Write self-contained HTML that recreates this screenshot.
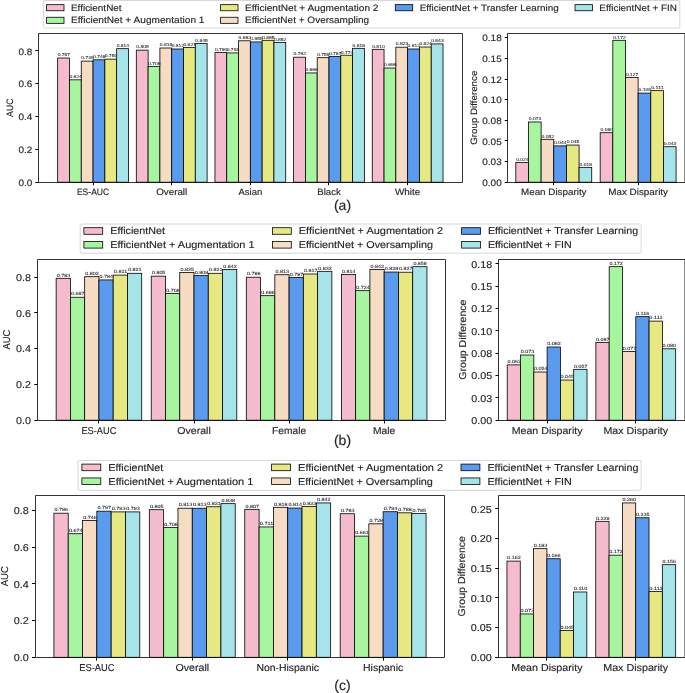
<!DOCTYPE html>
<html><head><meta charset="utf-8"><style>
html,body{margin:0;padding:0;background:#fff;}
svg{display:block;will-change:transform;}
text{font-family:"Liberation Sans",sans-serif;fill:#262626;text-rendering:geometricPrecision;stroke:#262626;stroke-width:0.15px;}
.bl{stroke:#262626;stroke-width:0.08px;}
</style></head><body>
<svg width="685" height="693" viewBox="0 0 685 693">
<rect width="685" height="693" fill="#fff"/>
<rect x="43.30" y="0.50" width="636.50" height="27.50" rx="1.5" fill="#fff" fill-opacity="0.8" stroke="#cccccc" stroke-width="0.8"/>
<rect x="46.60" y="4.66" width="17.40" height="6.09" fill="#f4bccd" stroke="#000" stroke-width="0.8"/>
<text x="70.96" y="10.90" font-size="9.22" text-anchor="start" textLength="50.66" lengthAdjust="spacingAndGlyphs">EfficientNet</text>
<rect x="46.60" y="17.26" width="17.40" height="6.09" fill="#a8f5a0" stroke="#000" stroke-width="0.8"/>
<text x="70.96" y="23.40" font-size="9.22" text-anchor="start" textLength="133.52" lengthAdjust="spacingAndGlyphs">EfficientNet + Augmentation 1</text>
<rect x="220.60" y="4.66" width="17.40" height="6.09" fill="#e8e882" stroke="#000" stroke-width="0.8"/>
<text x="244.96" y="10.90" font-size="9.22" text-anchor="start" textLength="133.52" lengthAdjust="spacingAndGlyphs">EfficientNet + Augmentation 2</text>
<rect x="220.60" y="17.26" width="17.40" height="6.09" fill="#f5dcc3" stroke="#000" stroke-width="0.8"/>
<text x="244.96" y="23.40" font-size="9.22" text-anchor="start" textLength="124.14" lengthAdjust="spacingAndGlyphs">EfficientNet + Oversampling</text>
<rect x="395.30" y="4.66" width="17.40" height="6.09" fill="#5a9bf0" stroke="#000" stroke-width="0.8"/>
<text x="419.66" y="10.90" font-size="9.22" text-anchor="start" textLength="139.00" lengthAdjust="spacingAndGlyphs">EfficientNet + Transfer Learning</text>
<rect x="575.00" y="4.66" width="17.40" height="6.09" fill="#a5e4e8" stroke="#000" stroke-width="0.8"/>
<text x="599.36" y="10.90" font-size="9.22" text-anchor="start" textLength="77.56" lengthAdjust="spacingAndGlyphs">EfficientNet + FIN</text>
<rect x="57.67" y="58.01" width="11.80" height="124.19" fill="#f4bccd" stroke="#000" stroke-width="0.8"/>
<rect x="69.47" y="79.83" width="11.80" height="102.37" fill="#a8f5a0" stroke="#000" stroke-width="0.8"/>
<rect x="81.26" y="61.13" width="11.80" height="121.07" fill="#f5dcc3" stroke="#000" stroke-width="0.8"/>
<rect x="93.06" y="59.82" width="11.80" height="122.38" fill="#5a9bf0" stroke="#000" stroke-width="0.8"/>
<rect x="104.86" y="59.16" width="11.80" height="123.04" fill="#e8e882" stroke="#000" stroke-width="0.8"/>
<rect x="116.65" y="48.66" width="11.80" height="133.54" fill="#a5e4e8" stroke="#000" stroke-width="0.8"/>
<rect x="136.31" y="50.14" width="11.80" height="132.06" fill="#f4bccd" stroke="#000" stroke-width="0.8"/>
<rect x="148.11" y="66.38" width="11.80" height="115.82" fill="#a8f5a0" stroke="#000" stroke-width="0.8"/>
<rect x="159.91" y="48.01" width="11.80" height="134.19" fill="#f5dcc3" stroke="#000" stroke-width="0.8"/>
<rect x="171.70" y="48.99" width="11.80" height="133.21" fill="#5a9bf0" stroke="#000" stroke-width="0.8"/>
<rect x="183.50" y="47.51" width="11.80" height="134.69" fill="#e8e882" stroke="#000" stroke-width="0.8"/>
<rect x="195.30" y="43.58" width="11.80" height="138.62" fill="#a5e4e8" stroke="#000" stroke-width="0.8"/>
<rect x="214.96" y="52.60" width="11.80" height="129.60" fill="#f4bccd" stroke="#000" stroke-width="0.8"/>
<rect x="226.76" y="52.93" width="11.80" height="129.27" fill="#a8f5a0" stroke="#000" stroke-width="0.8"/>
<rect x="238.55" y="40.79" width="11.80" height="141.41" fill="#f5dcc3" stroke="#000" stroke-width="0.8"/>
<rect x="250.35" y="41.94" width="11.80" height="140.26" fill="#5a9bf0" stroke="#000" stroke-width="0.8"/>
<rect x="262.15" y="40.30" width="11.80" height="141.90" fill="#e8e882" stroke="#000" stroke-width="0.8"/>
<rect x="273.94" y="42.43" width="11.80" height="139.77" fill="#a5e4e8" stroke="#000" stroke-width="0.8"/>
<rect x="293.61" y="57.19" width="11.80" height="125.01" fill="#f4bccd" stroke="#000" stroke-width="0.8"/>
<rect x="305.40" y="72.94" width="11.80" height="109.26" fill="#a8f5a0" stroke="#000" stroke-width="0.8"/>
<rect x="317.20" y="57.68" width="11.80" height="124.52" fill="#f5dcc3" stroke="#000" stroke-width="0.8"/>
<rect x="329.00" y="56.37" width="11.80" height="125.83" fill="#5a9bf0" stroke="#000" stroke-width="0.8"/>
<rect x="340.79" y="55.22" width="11.80" height="126.98" fill="#e8e882" stroke="#000" stroke-width="0.8"/>
<rect x="352.59" y="48.33" width="11.80" height="133.87" fill="#a5e4e8" stroke="#000" stroke-width="0.8"/>
<rect x="372.25" y="49.32" width="11.80" height="132.88" fill="#f4bccd" stroke="#000" stroke-width="0.8"/>
<rect x="384.05" y="68.02" width="11.80" height="114.18" fill="#a8f5a0" stroke="#000" stroke-width="0.8"/>
<rect x="395.84" y="47.19" width="11.80" height="135.01" fill="#f5dcc3" stroke="#000" stroke-width="0.8"/>
<rect x="407.64" y="48.99" width="11.80" height="133.21" fill="#5a9bf0" stroke="#000" stroke-width="0.8"/>
<rect x="419.44" y="47.02" width="11.80" height="135.18" fill="#e8e882" stroke="#000" stroke-width="0.8"/>
<rect x="431.23" y="43.90" width="11.80" height="138.30" fill="#a5e4e8" stroke="#000" stroke-width="0.8"/>
<text x="63.87" y="56.29" font-size="4.29" text-anchor="middle" class="bl" textLength="12.45" lengthAdjust="spacingAndGlyphs">0.757</text>
<text x="75.66" y="78.11" font-size="4.29" text-anchor="middle" class="bl" textLength="12.45" lengthAdjust="spacingAndGlyphs">0.624</text>
<text x="87.46" y="59.40" font-size="4.29" text-anchor="middle" class="bl" textLength="12.45" lengthAdjust="spacingAndGlyphs">0.738</text>
<text x="99.26" y="58.09" font-size="4.29" text-anchor="middle" class="bl" textLength="12.45" lengthAdjust="spacingAndGlyphs">0.746</text>
<text x="111.05" y="57.43" font-size="4.29" text-anchor="middle" class="bl" textLength="12.45" lengthAdjust="spacingAndGlyphs">0.750</text>
<text x="122.85" y="46.94" font-size="4.29" text-anchor="middle" class="bl" textLength="12.45" lengthAdjust="spacingAndGlyphs">0.814</text>
<text x="142.51" y="48.41" font-size="4.29" text-anchor="middle" class="bl" textLength="12.45" lengthAdjust="spacingAndGlyphs">0.805</text>
<text x="154.31" y="64.65" font-size="4.29" text-anchor="middle" class="bl" textLength="12.45" lengthAdjust="spacingAndGlyphs">0.706</text>
<text x="166.11" y="46.28" font-size="4.29" text-anchor="middle" class="bl" textLength="12.45" lengthAdjust="spacingAndGlyphs">0.818</text>
<text x="177.90" y="47.26" font-size="4.29" text-anchor="middle" class="bl" textLength="12.45" lengthAdjust="spacingAndGlyphs">0.812</text>
<text x="189.70" y="45.79" font-size="4.29" text-anchor="middle" class="bl" textLength="12.45" lengthAdjust="spacingAndGlyphs">0.821</text>
<text x="201.50" y="41.85" font-size="4.29" text-anchor="middle" class="bl" textLength="12.45" lengthAdjust="spacingAndGlyphs">0.845</text>
<text x="221.16" y="50.87" font-size="4.29" text-anchor="middle" class="bl" textLength="12.45" lengthAdjust="spacingAndGlyphs">0.790</text>
<text x="232.95" y="51.20" font-size="4.29" text-anchor="middle" class="bl" textLength="12.45" lengthAdjust="spacingAndGlyphs">0.788</text>
<text x="244.75" y="39.06" font-size="4.29" text-anchor="middle" class="bl" textLength="12.45" lengthAdjust="spacingAndGlyphs">0.862</text>
<text x="256.55" y="40.21" font-size="4.29" text-anchor="middle" class="bl" textLength="12.45" lengthAdjust="spacingAndGlyphs">0.855</text>
<text x="268.35" y="38.57" font-size="4.29" text-anchor="middle" class="bl" textLength="12.45" lengthAdjust="spacingAndGlyphs">0.865</text>
<text x="280.14" y="40.70" font-size="4.29" text-anchor="middle" class="bl" textLength="12.45" lengthAdjust="spacingAndGlyphs">0.852</text>
<text x="299.80" y="55.47" font-size="4.29" text-anchor="middle" class="bl" textLength="12.45" lengthAdjust="spacingAndGlyphs">0.762</text>
<text x="311.60" y="71.21" font-size="4.29" text-anchor="middle" class="bl" textLength="12.45" lengthAdjust="spacingAndGlyphs">0.666</text>
<text x="323.40" y="55.96" font-size="4.29" text-anchor="middle" class="bl" textLength="12.45" lengthAdjust="spacingAndGlyphs">0.759</text>
<text x="335.19" y="54.65" font-size="4.29" text-anchor="middle" class="bl" textLength="12.45" lengthAdjust="spacingAndGlyphs">0.767</text>
<text x="346.99" y="53.50" font-size="4.29" text-anchor="middle" class="bl" textLength="12.45" lengthAdjust="spacingAndGlyphs">0.774</text>
<text x="358.79" y="46.61" font-size="4.29" text-anchor="middle" class="bl" textLength="12.45" lengthAdjust="spacingAndGlyphs">0.816</text>
<text x="378.45" y="47.59" font-size="4.29" text-anchor="middle" class="bl" textLength="12.45" lengthAdjust="spacingAndGlyphs">0.810</text>
<text x="390.25" y="66.29" font-size="4.29" text-anchor="middle" class="bl" textLength="12.45" lengthAdjust="spacingAndGlyphs">0.696</text>
<text x="402.04" y="45.46" font-size="4.29" text-anchor="middle" class="bl" textLength="12.45" lengthAdjust="spacingAndGlyphs">0.823</text>
<text x="413.84" y="47.26" font-size="4.29" text-anchor="middle" class="bl" textLength="12.45" lengthAdjust="spacingAndGlyphs">0.812</text>
<text x="425.64" y="45.29" font-size="4.29" text-anchor="middle" class="bl" textLength="12.45" lengthAdjust="spacingAndGlyphs">0.824</text>
<text x="437.43" y="42.18" font-size="4.29" text-anchor="middle" class="bl" textLength="12.45" lengthAdjust="spacingAndGlyphs">0.843</text>
<path d="M462.50 33.50 H38.50 V182.50 H462.50 V33.50" fill="none" stroke="#000" stroke-width="0.8"/>
<line x1="35.35" y1="182.50" x2="38.40" y2="182.50" stroke="#000" stroke-width="1.0"/>
<text x="32.31" y="185.76" font-size="9.22" text-anchor="end" textLength="13.84" lengthAdjust="spacingAndGlyphs">0.0</text>
<line x1="35.35" y1="149.50" x2="38.40" y2="149.50" stroke="#000" stroke-width="1.0"/>
<text x="32.31" y="152.95" font-size="9.22" text-anchor="end" textLength="13.84" lengthAdjust="spacingAndGlyphs">0.2</text>
<line x1="35.35" y1="116.50" x2="38.40" y2="116.50" stroke="#000" stroke-width="1.0"/>
<text x="32.31" y="120.14" font-size="9.22" text-anchor="end" textLength="13.84" lengthAdjust="spacingAndGlyphs">0.4</text>
<line x1="35.35" y1="83.50" x2="38.40" y2="83.50" stroke="#000" stroke-width="1.0"/>
<text x="32.31" y="87.32" font-size="9.22" text-anchor="end" textLength="13.84" lengthAdjust="spacingAndGlyphs">0.6</text>
<line x1="35.35" y1="50.50" x2="38.40" y2="50.50" stroke="#000" stroke-width="1.0"/>
<text x="32.31" y="54.51" font-size="9.22" text-anchor="end" textLength="13.84" lengthAdjust="spacingAndGlyphs">0.8</text>
<line x1="93.50" y1="182.20" x2="93.50" y2="185.24" stroke="#000" stroke-width="1.0"/>
<text x="93.06" y="194.90" font-size="9.22" text-anchor="middle" textLength="32.36" lengthAdjust="spacingAndGlyphs">ES-AUC</text>
<line x1="171.50" y1="182.20" x2="171.50" y2="185.24" stroke="#000" stroke-width="1.0"/>
<text x="171.70" y="194.90" font-size="9.22" text-anchor="middle" textLength="31.09" lengthAdjust="spacingAndGlyphs">Overall</text>
<line x1="250.50" y1="182.20" x2="250.50" y2="185.24" stroke="#000" stroke-width="1.0"/>
<text x="250.35" y="194.90" font-size="9.22" text-anchor="middle" textLength="23.75" lengthAdjust="spacingAndGlyphs">Asian</text>
<line x1="328.50" y1="182.20" x2="328.50" y2="185.24" stroke="#000" stroke-width="1.0"/>
<text x="329.00" y="194.90" font-size="9.22" text-anchor="middle" textLength="23.54" lengthAdjust="spacingAndGlyphs">Black</text>
<line x1="407.50" y1="182.20" x2="407.50" y2="185.24" stroke="#000" stroke-width="1.0"/>
<text x="407.64" y="194.90" font-size="9.22" text-anchor="middle" textLength="25.30" lengthAdjust="spacingAndGlyphs">White</text>
<text x="13.24" y="107.70" font-size="9.22" text-anchor="middle" textLength="18.39" lengthAdjust="spacingAndGlyphs" transform="rotate(-90 13.24 107.70)">AUC</text>
<rect x="515.81" y="162.40" width="12.65" height="19.80" fill="#f4bccd" stroke="#000" stroke-width="0.8"/>
<rect x="528.47" y="121.97" width="12.65" height="60.23" fill="#a8f5a0" stroke="#000" stroke-width="0.8"/>
<rect x="541.12" y="139.30" width="12.65" height="42.90" fill="#f5dcc3" stroke="#000" stroke-width="0.8"/>
<rect x="553.77" y="145.90" width="12.65" height="36.30" fill="#5a9bf0" stroke="#000" stroke-width="0.8"/>
<rect x="566.43" y="145.07" width="12.65" height="37.13" fill="#e8e882" stroke="#000" stroke-width="0.8"/>
<rect x="579.08" y="167.35" width="12.65" height="14.85" fill="#a5e4e8" stroke="#000" stroke-width="0.8"/>
<rect x="600.17" y="132.70" width="12.65" height="49.50" fill="#f4bccd" stroke="#000" stroke-width="0.8"/>
<rect x="612.82" y="40.30" width="12.65" height="141.90" fill="#a8f5a0" stroke="#000" stroke-width="0.8"/>
<rect x="625.47" y="77.42" width="12.65" height="104.78" fill="#f5dcc3" stroke="#000" stroke-width="0.8"/>
<rect x="638.13" y="93.10" width="12.65" height="89.10" fill="#5a9bf0" stroke="#000" stroke-width="0.8"/>
<rect x="650.78" y="90.62" width="12.65" height="91.58" fill="#e8e882" stroke="#000" stroke-width="0.8"/>
<rect x="663.43" y="146.72" width="12.65" height="35.48" fill="#a5e4e8" stroke="#000" stroke-width="0.8"/>
<text x="522.44" y="160.67" font-size="4.29" text-anchor="middle" class="bl" textLength="12.45" lengthAdjust="spacingAndGlyphs">0.024</text>
<text x="535.09" y="120.25" font-size="4.29" text-anchor="middle" class="bl" textLength="12.45" lengthAdjust="spacingAndGlyphs">0.073</text>
<text x="547.75" y="137.57" font-size="4.29" text-anchor="middle" class="bl" textLength="12.45" lengthAdjust="spacingAndGlyphs">0.052</text>
<text x="560.40" y="144.17" font-size="4.29" text-anchor="middle" class="bl" textLength="12.45" lengthAdjust="spacingAndGlyphs">0.044</text>
<text x="573.05" y="143.35" font-size="4.29" text-anchor="middle" class="bl" textLength="12.45" lengthAdjust="spacingAndGlyphs">0.045</text>
<text x="585.71" y="165.62" font-size="4.29" text-anchor="middle" class="bl" textLength="12.45" lengthAdjust="spacingAndGlyphs">0.018</text>
<text x="606.79" y="130.97" font-size="4.29" text-anchor="middle" class="bl" textLength="12.45" lengthAdjust="spacingAndGlyphs">0.060</text>
<text x="619.45" y="38.57" font-size="4.29" text-anchor="middle" class="bl" textLength="12.45" lengthAdjust="spacingAndGlyphs">0.172</text>
<text x="632.10" y="75.69" font-size="4.29" text-anchor="middle" class="bl" textLength="12.45" lengthAdjust="spacingAndGlyphs">0.127</text>
<text x="644.75" y="91.37" font-size="4.29" text-anchor="middle" class="bl" textLength="12.45" lengthAdjust="spacingAndGlyphs">0.108</text>
<text x="657.41" y="88.90" font-size="4.29" text-anchor="middle" class="bl" textLength="12.45" lengthAdjust="spacingAndGlyphs">0.111</text>
<text x="670.06" y="145.00" font-size="4.29" text-anchor="middle" class="bl" textLength="12.45" lengthAdjust="spacingAndGlyphs">0.043</text>
<path d="M684.95 33.50 H507.50 V182.50 H684.95 V33.50" fill="none" stroke="#000" stroke-width="0.8"/>
<line x1="504.75" y1="182.50" x2="507.80" y2="182.50" stroke="#000" stroke-width="1.0"/>
<text x="501.71" y="185.76" font-size="9.22" text-anchor="end" textLength="19.37" lengthAdjust="spacingAndGlyphs">0.00</text>
<line x1="504.75" y1="161.50" x2="507.80" y2="161.50" stroke="#000" stroke-width="1.0"/>
<text x="501.71" y="165.13" font-size="9.22" text-anchor="end" textLength="19.37" lengthAdjust="spacingAndGlyphs">0.03</text>
<line x1="504.75" y1="140.50" x2="507.80" y2="140.50" stroke="#000" stroke-width="1.0"/>
<text x="501.71" y="144.50" font-size="9.22" text-anchor="end" textLength="19.37" lengthAdjust="spacingAndGlyphs">0.05</text>
<line x1="504.75" y1="120.50" x2="507.80" y2="120.50" stroke="#000" stroke-width="1.0"/>
<text x="501.71" y="123.88" font-size="9.22" text-anchor="end" textLength="19.37" lengthAdjust="spacingAndGlyphs">0.08</text>
<line x1="504.75" y1="99.50" x2="507.80" y2="99.50" stroke="#000" stroke-width="1.0"/>
<text x="501.71" y="103.25" font-size="9.22" text-anchor="end" textLength="19.37" lengthAdjust="spacingAndGlyphs">0.10</text>
<line x1="504.75" y1="79.50" x2="507.80" y2="79.50" stroke="#000" stroke-width="1.0"/>
<text x="501.71" y="82.63" font-size="9.22" text-anchor="end" textLength="19.37" lengthAdjust="spacingAndGlyphs">0.12</text>
<line x1="504.75" y1="58.50" x2="507.80" y2="58.50" stroke="#000" stroke-width="1.0"/>
<text x="501.71" y="62.00" font-size="9.22" text-anchor="end" textLength="19.37" lengthAdjust="spacingAndGlyphs">0.15</text>
<line x1="504.75" y1="37.50" x2="507.80" y2="37.50" stroke="#000" stroke-width="1.0"/>
<text x="501.71" y="41.38" font-size="9.22" text-anchor="end" textLength="19.37" lengthAdjust="spacingAndGlyphs">0.18</text>
<line x1="553.50" y1="182.20" x2="553.50" y2="185.24" stroke="#000" stroke-width="1.0"/>
<text x="553.77" y="194.90" font-size="9.22" text-anchor="middle" textLength="65.53" lengthAdjust="spacingAndGlyphs">Mean Disparity</text>
<line x1="638.50" y1="182.20" x2="638.50" y2="185.24" stroke="#000" stroke-width="1.0"/>
<text x="638.13" y="194.90" font-size="9.22" text-anchor="middle" textLength="59.81" lengthAdjust="spacingAndGlyphs">Max Disparity</text>
<text x="477.44" y="107.70" font-size="9.22" text-anchor="middle" textLength="74.10" lengthAdjust="spacingAndGlyphs" transform="rotate(-90 477.44 107.70)">Group Difference</text>
<text x="342.5" y="210.1" font-size="14" text-anchor="middle" fill="#111">(a)</text>
<rect x="80.20" y="224.00" width="561.00" height="29.20" rx="1.5" fill="#fff" fill-opacity="0.8" stroke="#cccccc" stroke-width="0.8"/>
<rect x="83.90" y="227.71" width="18.80" height="6.58" fill="#f4bccd" stroke="#000" stroke-width="0.8"/>
<text x="110.22" y="234.40" font-size="9.96" text-anchor="start" textLength="54.74" lengthAdjust="spacingAndGlyphs">EfficientNet</text>
<rect x="83.90" y="241.51" width="18.80" height="6.58" fill="#a8f5a0" stroke="#000" stroke-width="0.8"/>
<text x="110.22" y="248.00" font-size="9.96" text-anchor="start" textLength="144.26" lengthAdjust="spacingAndGlyphs">EfficientNet + Augmentation 1</text>
<rect x="272.50" y="227.71" width="18.80" height="6.58" fill="#e8e882" stroke="#000" stroke-width="0.8"/>
<text x="298.82" y="234.40" font-size="9.96" text-anchor="start" textLength="144.26" lengthAdjust="spacingAndGlyphs">EfficientNet + Augmentation 2</text>
<rect x="272.50" y="241.51" width="18.80" height="6.58" fill="#f5dcc3" stroke="#000" stroke-width="0.8"/>
<text x="298.82" y="248.00" font-size="9.96" text-anchor="start" textLength="134.13" lengthAdjust="spacingAndGlyphs">EfficientNet + Oversampling</text>
<rect x="461.60" y="227.71" width="18.80" height="6.58" fill="#5a9bf0" stroke="#000" stroke-width="0.8"/>
<text x="487.92" y="234.40" font-size="9.96" text-anchor="start" textLength="150.18" lengthAdjust="spacingAndGlyphs">EfficientNet + Transfer Learning</text>
<rect x="461.60" y="241.51" width="18.80" height="6.58" fill="#a5e4e8" stroke="#000" stroke-width="0.8"/>
<text x="487.92" y="248.00" font-size="9.96" text-anchor="start" textLength="83.80" lengthAdjust="spacingAndGlyphs">EfficientNet + FIN</text>
<rect x="56.14" y="278.31" width="14.26" height="141.89" fill="#f4bccd" stroke="#000" stroke-width="0.8"/>
<rect x="70.40" y="297.27" width="14.26" height="122.93" fill="#a8f5a0" stroke="#000" stroke-width="0.8"/>
<rect x="84.67" y="276.70" width="14.26" height="143.50" fill="#f5dcc3" stroke="#000" stroke-width="0.8"/>
<rect x="98.93" y="279.92" width="14.26" height="140.28" fill="#5a9bf0" stroke="#000" stroke-width="0.8"/>
<rect x="113.19" y="275.09" width="14.26" height="145.11" fill="#e8e882" stroke="#000" stroke-width="0.8"/>
<rect x="127.45" y="273.30" width="14.26" height="146.90" fill="#a5e4e8" stroke="#000" stroke-width="0.8"/>
<rect x="151.22" y="276.16" width="14.26" height="144.04" fill="#f4bccd" stroke="#000" stroke-width="0.8"/>
<rect x="165.48" y="293.52" width="14.26" height="126.68" fill="#a8f5a0" stroke="#000" stroke-width="0.8"/>
<rect x="179.75" y="272.58" width="14.26" height="147.62" fill="#f5dcc3" stroke="#000" stroke-width="0.8"/>
<rect x="194.01" y="275.62" width="14.26" height="144.58" fill="#5a9bf0" stroke="#000" stroke-width="0.8"/>
<rect x="208.27" y="273.30" width="14.26" height="146.90" fill="#e8e882" stroke="#000" stroke-width="0.8"/>
<rect x="222.53" y="269.54" width="14.26" height="150.66" fill="#a5e4e8" stroke="#000" stroke-width="0.8"/>
<rect x="246.30" y="277.23" width="14.26" height="142.97" fill="#f4bccd" stroke="#000" stroke-width="0.8"/>
<rect x="260.57" y="295.66" width="14.26" height="124.54" fill="#a8f5a0" stroke="#000" stroke-width="0.8"/>
<rect x="274.83" y="274.73" width="14.26" height="145.47" fill="#f5dcc3" stroke="#000" stroke-width="0.8"/>
<rect x="289.09" y="277.59" width="14.26" height="142.61" fill="#5a9bf0" stroke="#000" stroke-width="0.8"/>
<rect x="303.35" y="274.01" width="14.26" height="146.19" fill="#e8e882" stroke="#000" stroke-width="0.8"/>
<rect x="317.62" y="271.33" width="14.26" height="148.87" fill="#a5e4e8" stroke="#000" stroke-width="0.8"/>
<rect x="341.39" y="274.55" width="14.26" height="145.65" fill="#f4bccd" stroke="#000" stroke-width="0.8"/>
<rect x="355.65" y="290.65" width="14.26" height="129.55" fill="#a8f5a0" stroke="#000" stroke-width="0.8"/>
<rect x="369.91" y="269.54" width="14.26" height="150.66" fill="#f5dcc3" stroke="#000" stroke-width="0.8"/>
<rect x="384.17" y="272.04" width="14.26" height="148.16" fill="#5a9bf0" stroke="#000" stroke-width="0.8"/>
<rect x="398.43" y="272.22" width="14.26" height="147.98" fill="#e8e882" stroke="#000" stroke-width="0.8"/>
<rect x="412.70" y="266.68" width="14.26" height="153.52" fill="#a5e4e8" stroke="#000" stroke-width="0.8"/>
<text x="63.57" y="276.50" font-size="4.63" text-anchor="middle" class="bl" textLength="13.46" lengthAdjust="spacingAndGlyphs">0.793</text>
<text x="77.83" y="295.46" font-size="4.63" text-anchor="middle" class="bl" textLength="13.46" lengthAdjust="spacingAndGlyphs">0.687</text>
<text x="92.10" y="274.89" font-size="4.63" text-anchor="middle" class="bl" textLength="13.46" lengthAdjust="spacingAndGlyphs">0.802</text>
<text x="106.36" y="278.11" font-size="4.63" text-anchor="middle" class="bl" textLength="13.46" lengthAdjust="spacingAndGlyphs">0.784</text>
<text x="120.62" y="273.28" font-size="4.63" text-anchor="middle" class="bl" textLength="13.46" lengthAdjust="spacingAndGlyphs">0.811</text>
<text x="134.88" y="271.49" font-size="4.63" text-anchor="middle" class="bl" textLength="13.46" lengthAdjust="spacingAndGlyphs">0.821</text>
<text x="158.65" y="274.35" font-size="4.63" text-anchor="middle" class="bl" textLength="13.46" lengthAdjust="spacingAndGlyphs">0.805</text>
<text x="172.92" y="291.71" font-size="4.63" text-anchor="middle" class="bl" textLength="13.46" lengthAdjust="spacingAndGlyphs">0.708</text>
<text x="187.18" y="270.77" font-size="4.63" text-anchor="middle" class="bl" textLength="13.46" lengthAdjust="spacingAndGlyphs">0.825</text>
<text x="201.44" y="273.81" font-size="4.63" text-anchor="middle" class="bl" textLength="13.46" lengthAdjust="spacingAndGlyphs">0.808</text>
<text x="215.70" y="271.49" font-size="4.63" text-anchor="middle" class="bl" textLength="13.46" lengthAdjust="spacingAndGlyphs">0.821</text>
<text x="229.96" y="267.73" font-size="4.63" text-anchor="middle" class="bl" textLength="13.46" lengthAdjust="spacingAndGlyphs">0.842</text>
<text x="253.74" y="275.42" font-size="4.63" text-anchor="middle" class="bl" textLength="13.46" lengthAdjust="spacingAndGlyphs">0.799</text>
<text x="268.00" y="293.85" font-size="4.63" text-anchor="middle" class="bl" textLength="13.46" lengthAdjust="spacingAndGlyphs">0.696</text>
<text x="282.26" y="272.92" font-size="4.63" text-anchor="middle" class="bl" textLength="13.46" lengthAdjust="spacingAndGlyphs">0.813</text>
<text x="296.52" y="275.78" font-size="4.63" text-anchor="middle" class="bl" textLength="13.46" lengthAdjust="spacingAndGlyphs">0.797</text>
<text x="310.78" y="272.20" font-size="4.63" text-anchor="middle" class="bl" textLength="13.46" lengthAdjust="spacingAndGlyphs">0.817</text>
<text x="325.05" y="269.52" font-size="4.63" text-anchor="middle" class="bl" textLength="13.46" lengthAdjust="spacingAndGlyphs">0.832</text>
<text x="348.82" y="272.74" font-size="4.63" text-anchor="middle" class="bl" textLength="13.46" lengthAdjust="spacingAndGlyphs">0.814</text>
<text x="363.08" y="288.84" font-size="4.63" text-anchor="middle" class="bl" textLength="13.46" lengthAdjust="spacingAndGlyphs">0.724</text>
<text x="377.34" y="267.73" font-size="4.63" text-anchor="middle" class="bl" textLength="13.46" lengthAdjust="spacingAndGlyphs">0.842</text>
<text x="391.60" y="270.23" font-size="4.63" text-anchor="middle" class="bl" textLength="13.46" lengthAdjust="spacingAndGlyphs">0.828</text>
<text x="405.87" y="270.41" font-size="4.63" text-anchor="middle" class="bl" textLength="13.46" lengthAdjust="spacingAndGlyphs">0.827</text>
<text x="420.13" y="264.87" font-size="4.63" text-anchor="middle" class="bl" textLength="13.46" lengthAdjust="spacingAndGlyphs">0.858</text>
<path d="M445.50 259.50 H37.50 V420.50 H445.50 V259.50" fill="none" stroke="#000" stroke-width="0.8"/>
<line x1="34.31" y1="420.50" x2="37.60" y2="420.50" stroke="#000" stroke-width="1.0"/>
<text x="31.02" y="424.02" font-size="9.96" text-anchor="end" textLength="14.95" lengthAdjust="spacingAndGlyphs">0.0</text>
<line x1="34.31" y1="384.50" x2="37.60" y2="384.50" stroke="#000" stroke-width="1.0"/>
<text x="31.02" y="388.24" font-size="9.96" text-anchor="end" textLength="14.95" lengthAdjust="spacingAndGlyphs">0.2</text>
<line x1="34.31" y1="348.50" x2="37.60" y2="348.50" stroke="#000" stroke-width="1.0"/>
<text x="31.02" y="352.45" font-size="9.96" text-anchor="end" textLength="14.95" lengthAdjust="spacingAndGlyphs">0.4</text>
<line x1="34.31" y1="312.50" x2="37.60" y2="312.50" stroke="#000" stroke-width="1.0"/>
<text x="31.02" y="316.66" font-size="9.96" text-anchor="end" textLength="14.95" lengthAdjust="spacingAndGlyphs">0.6</text>
<line x1="34.31" y1="277.50" x2="37.60" y2="277.50" stroke="#000" stroke-width="1.0"/>
<text x="31.02" y="280.88" font-size="9.96" text-anchor="end" textLength="14.95" lengthAdjust="spacingAndGlyphs">0.8</text>
<line x1="98.50" y1="420.20" x2="98.50" y2="423.49" stroke="#000" stroke-width="1.0"/>
<text x="98.93" y="433.92" font-size="9.96" text-anchor="middle" textLength="34.97" lengthAdjust="spacingAndGlyphs">ES-AUC</text>
<line x1="194.50" y1="420.20" x2="194.50" y2="423.49" stroke="#000" stroke-width="1.0"/>
<text x="194.01" y="433.92" font-size="9.96" text-anchor="middle" textLength="33.59" lengthAdjust="spacingAndGlyphs">Overall</text>
<line x1="289.50" y1="420.20" x2="289.50" y2="423.49" stroke="#000" stroke-width="1.0"/>
<text x="289.09" y="433.92" font-size="9.96" text-anchor="middle" textLength="33.99" lengthAdjust="spacingAndGlyphs">Female</text>
<line x1="384.50" y1="420.20" x2="384.50" y2="423.49" stroke="#000" stroke-width="1.0"/>
<text x="384.17" y="433.92" font-size="9.96" text-anchor="middle" textLength="22.27" lengthAdjust="spacingAndGlyphs">Male</text>
<text x="10.35" y="339.60" font-size="9.96" text-anchor="middle" textLength="19.87" lengthAdjust="spacingAndGlyphs" transform="rotate(-90 10.35 339.60)">AUC</text>
<rect x="507.22" y="364.86" width="13.30" height="55.34" fill="#f4bccd" stroke="#000" stroke-width="0.8"/>
<rect x="520.52" y="355.04" width="13.30" height="65.16" fill="#a8f5a0" stroke="#000" stroke-width="0.8"/>
<rect x="533.82" y="372.00" width="13.30" height="48.20" fill="#f5dcc3" stroke="#000" stroke-width="0.8"/>
<rect x="547.12" y="347.01" width="13.30" height="73.19" fill="#5a9bf0" stroke="#000" stroke-width="0.8"/>
<rect x="560.42" y="380.03" width="13.30" height="40.17" fill="#e8e882" stroke="#000" stroke-width="0.8"/>
<rect x="573.72" y="369.32" width="13.30" height="50.88" fill="#a5e4e8" stroke="#000" stroke-width="0.8"/>
<rect x="595.88" y="342.55" width="13.30" height="77.65" fill="#f4bccd" stroke="#000" stroke-width="0.8"/>
<rect x="609.18" y="266.68" width="13.30" height="153.52" fill="#a8f5a0" stroke="#000" stroke-width="0.8"/>
<rect x="622.48" y="351.47" width="13.30" height="68.73" fill="#f5dcc3" stroke="#000" stroke-width="0.8"/>
<rect x="635.78" y="316.66" width="13.30" height="103.54" fill="#5a9bf0" stroke="#000" stroke-width="0.8"/>
<rect x="649.08" y="321.12" width="13.30" height="99.08" fill="#e8e882" stroke="#000" stroke-width="0.8"/>
<rect x="662.38" y="348.79" width="13.30" height="71.41" fill="#a5e4e8" stroke="#000" stroke-width="0.8"/>
<text x="514.17" y="363.05" font-size="4.63" text-anchor="middle" class="bl" textLength="13.46" lengthAdjust="spacingAndGlyphs">0.062</text>
<text x="527.47" y="353.23" font-size="4.63" text-anchor="middle" class="bl" textLength="13.46" lengthAdjust="spacingAndGlyphs">0.073</text>
<text x="540.77" y="370.19" font-size="4.63" text-anchor="middle" class="bl" textLength="13.46" lengthAdjust="spacingAndGlyphs">0.054</text>
<text x="554.07" y="345.20" font-size="4.63" text-anchor="middle" class="bl" textLength="13.46" lengthAdjust="spacingAndGlyphs">0.082</text>
<text x="567.37" y="378.22" font-size="4.63" text-anchor="middle" class="bl" textLength="13.46" lengthAdjust="spacingAndGlyphs">0.045</text>
<text x="580.67" y="367.51" font-size="4.63" text-anchor="middle" class="bl" textLength="13.46" lengthAdjust="spacingAndGlyphs">0.057</text>
<text x="602.83" y="340.74" font-size="4.63" text-anchor="middle" class="bl" textLength="13.46" lengthAdjust="spacingAndGlyphs">0.087</text>
<text x="616.13" y="264.87" font-size="4.63" text-anchor="middle" class="bl" textLength="13.46" lengthAdjust="spacingAndGlyphs">0.172</text>
<text x="629.43" y="349.66" font-size="4.63" text-anchor="middle" class="bl" textLength="13.46" lengthAdjust="spacingAndGlyphs">0.077</text>
<text x="642.73" y="314.85" font-size="4.63" text-anchor="middle" class="bl" textLength="13.46" lengthAdjust="spacingAndGlyphs">0.116</text>
<text x="656.03" y="319.31" font-size="4.63" text-anchor="middle" class="bl" textLength="13.46" lengthAdjust="spacingAndGlyphs">0.111</text>
<text x="669.33" y="346.98" font-size="4.63" text-anchor="middle" class="bl" textLength="13.46" lengthAdjust="spacingAndGlyphs">0.080</text>
<path d="M684.95 259.50 H498.50 V420.50 H684.95 V259.50" fill="none" stroke="#000" stroke-width="0.8"/>
<line x1="495.51" y1="420.50" x2="498.80" y2="420.50" stroke="#000" stroke-width="1.0"/>
<text x="492.22" y="424.02" font-size="9.96" text-anchor="end" textLength="20.93" lengthAdjust="spacingAndGlyphs">0.00</text>
<line x1="495.51" y1="397.50" x2="498.80" y2="397.50" stroke="#000" stroke-width="1.0"/>
<text x="492.22" y="401.71" font-size="9.96" text-anchor="end" textLength="20.93" lengthAdjust="spacingAndGlyphs">0.03</text>
<line x1="495.51" y1="375.50" x2="498.80" y2="375.50" stroke="#000" stroke-width="1.0"/>
<text x="492.22" y="379.39" font-size="9.96" text-anchor="end" textLength="20.93" lengthAdjust="spacingAndGlyphs">0.05</text>
<line x1="495.51" y1="353.50" x2="498.80" y2="353.50" stroke="#000" stroke-width="1.0"/>
<text x="492.22" y="357.08" font-size="9.96" text-anchor="end" textLength="20.93" lengthAdjust="spacingAndGlyphs">0.08</text>
<line x1="495.51" y1="330.50" x2="498.80" y2="330.50" stroke="#000" stroke-width="1.0"/>
<text x="492.22" y="334.76" font-size="9.96" text-anchor="end" textLength="20.93" lengthAdjust="spacingAndGlyphs">0.10</text>
<line x1="495.51" y1="308.50" x2="498.80" y2="308.50" stroke="#000" stroke-width="1.0"/>
<text x="492.22" y="312.45" font-size="9.96" text-anchor="end" textLength="20.93" lengthAdjust="spacingAndGlyphs">0.12</text>
<line x1="495.51" y1="286.50" x2="498.80" y2="286.50" stroke="#000" stroke-width="1.0"/>
<text x="492.22" y="290.13" font-size="9.96" text-anchor="end" textLength="20.93" lengthAdjust="spacingAndGlyphs">0.15</text>
<line x1="495.51" y1="263.50" x2="498.80" y2="263.50" stroke="#000" stroke-width="1.0"/>
<text x="492.22" y="267.82" font-size="9.96" text-anchor="end" textLength="20.93" lengthAdjust="spacingAndGlyphs">0.18</text>
<line x1="547.50" y1="420.20" x2="547.50" y2="423.49" stroke="#000" stroke-width="1.0"/>
<text x="547.12" y="433.92" font-size="9.96" text-anchor="middle" textLength="70.80" lengthAdjust="spacingAndGlyphs">Mean Disparity</text>
<line x1="635.50" y1="420.20" x2="635.50" y2="423.49" stroke="#000" stroke-width="1.0"/>
<text x="635.78" y="433.92" font-size="9.96" text-anchor="middle" textLength="64.62" lengthAdjust="spacingAndGlyphs">Max Disparity</text>
<text x="465.95" y="339.60" font-size="9.96" text-anchor="middle" textLength="80.07" lengthAdjust="spacingAndGlyphs" transform="rotate(-90 465.95 339.60)">Group Difference</text>
<text x="342.5" y="444.8" font-size="14" text-anchor="middle" fill="#111">(b)</text>
<rect x="78.00" y="460.50" width="563.20" height="29.80" rx="1.5" fill="#fff" fill-opacity="0.8" stroke="#cccccc" stroke-width="0.8"/>
<rect x="81.90" y="464.09" width="18.90" height="6.61" fill="#f4bccd" stroke="#000" stroke-width="0.8"/>
<text x="108.36" y="471.00" font-size="10.02" text-anchor="start" textLength="55.03" lengthAdjust="spacingAndGlyphs">EfficientNet</text>
<rect x="81.90" y="477.94" width="18.90" height="6.61" fill="#a8f5a0" stroke="#000" stroke-width="0.8"/>
<text x="108.36" y="484.70" font-size="10.02" text-anchor="start" textLength="145.03" lengthAdjust="spacingAndGlyphs">EfficientNet + Augmentation 1</text>
<rect x="271.60" y="464.09" width="18.90" height="6.61" fill="#e8e882" stroke="#000" stroke-width="0.8"/>
<text x="298.06" y="471.00" font-size="10.02" text-anchor="start" textLength="145.03" lengthAdjust="spacingAndGlyphs">EfficientNet + Augmentation 2</text>
<rect x="271.60" y="477.94" width="18.90" height="6.61" fill="#f5dcc3" stroke="#000" stroke-width="0.8"/>
<text x="298.06" y="484.70" font-size="10.02" text-anchor="start" textLength="134.84" lengthAdjust="spacingAndGlyphs">EfficientNet + Oversampling</text>
<rect x="461.00" y="464.09" width="18.90" height="6.61" fill="#5a9bf0" stroke="#000" stroke-width="0.8"/>
<text x="487.46" y="471.00" font-size="10.02" text-anchor="start" textLength="150.98" lengthAdjust="spacingAndGlyphs">EfficientNet + Transfer Learning</text>
<rect x="461.00" y="477.94" width="18.90" height="6.61" fill="#a5e4e8" stroke="#000" stroke-width="0.8"/>
<text x="487.46" y="484.70" font-size="10.02" text-anchor="start" textLength="84.24" lengthAdjust="spacingAndGlyphs">EfficientNet + FIN</text>
<rect x="53.91" y="513.19" width="14.31" height="144.11" fill="#f4bccd" stroke="#000" stroke-width="0.8"/>
<rect x="68.22" y="533.72" width="14.31" height="123.58" fill="#a8f5a0" stroke="#000" stroke-width="0.8"/>
<rect x="82.54" y="520.52" width="14.31" height="136.78" fill="#f5dcc3" stroke="#000" stroke-width="0.8"/>
<rect x="96.85" y="511.17" width="14.31" height="146.13" fill="#5a9bf0" stroke="#000" stroke-width="0.8"/>
<rect x="111.17" y="511.90" width="14.31" height="145.40" fill="#e8e882" stroke="#000" stroke-width="0.8"/>
<rect x="125.48" y="511.90" width="14.31" height="145.40" fill="#a5e4e8" stroke="#000" stroke-width="0.8"/>
<rect x="149.34" y="509.70" width="14.31" height="147.60" fill="#f4bccd" stroke="#000" stroke-width="0.8"/>
<rect x="163.66" y="527.49" width="14.31" height="129.81" fill="#a8f5a0" stroke="#000" stroke-width="0.8"/>
<rect x="177.97" y="508.24" width="14.31" height="149.06" fill="#f5dcc3" stroke="#000" stroke-width="0.8"/>
<rect x="192.28" y="508.24" width="14.31" height="149.06" fill="#5a9bf0" stroke="#000" stroke-width="0.8"/>
<rect x="206.60" y="506.77" width="14.31" height="150.53" fill="#e8e882" stroke="#000" stroke-width="0.8"/>
<rect x="220.91" y="503.65" width="14.31" height="153.65" fill="#a5e4e8" stroke="#000" stroke-width="0.8"/>
<rect x="244.77" y="509.34" width="14.31" height="147.96" fill="#f4bccd" stroke="#000" stroke-width="0.8"/>
<rect x="259.09" y="526.94" width="14.31" height="130.36" fill="#a8f5a0" stroke="#000" stroke-width="0.8"/>
<rect x="273.40" y="507.32" width="14.31" height="149.98" fill="#f5dcc3" stroke="#000" stroke-width="0.8"/>
<rect x="287.72" y="508.05" width="14.31" height="149.25" fill="#5a9bf0" stroke="#000" stroke-width="0.8"/>
<rect x="302.03" y="506.40" width="14.31" height="150.90" fill="#e8e882" stroke="#000" stroke-width="0.8"/>
<rect x="316.34" y="502.92" width="14.31" height="154.38" fill="#a5e4e8" stroke="#000" stroke-width="0.8"/>
<rect x="340.20" y="513.74" width="14.31" height="143.56" fill="#f4bccd" stroke="#000" stroke-width="0.8"/>
<rect x="354.52" y="536.11" width="14.31" height="121.19" fill="#a8f5a0" stroke="#000" stroke-width="0.8"/>
<rect x="368.83" y="523.82" width="14.31" height="133.48" fill="#f5dcc3" stroke="#000" stroke-width="0.8"/>
<rect x="383.15" y="511.72" width="14.31" height="145.58" fill="#5a9bf0" stroke="#000" stroke-width="0.8"/>
<rect x="397.46" y="512.82" width="14.31" height="144.48" fill="#e8e882" stroke="#000" stroke-width="0.8"/>
<rect x="411.78" y="513.37" width="14.31" height="143.93" fill="#a5e4e8" stroke="#000" stroke-width="0.8"/>
<text x="61.37" y="511.37" font-size="4.66" text-anchor="middle" class="bl" textLength="13.53" lengthAdjust="spacingAndGlyphs">0.786</text>
<text x="75.68" y="531.91" font-size="4.66" text-anchor="middle" class="bl" textLength="13.53" lengthAdjust="spacingAndGlyphs">0.674</text>
<text x="90.00" y="518.71" font-size="4.66" text-anchor="middle" class="bl" textLength="13.53" lengthAdjust="spacingAndGlyphs">0.746</text>
<text x="104.31" y="509.35" font-size="4.66" text-anchor="middle" class="bl" textLength="13.53" lengthAdjust="spacingAndGlyphs">0.797</text>
<text x="118.63" y="510.09" font-size="4.66" text-anchor="middle" class="bl" textLength="13.53" lengthAdjust="spacingAndGlyphs">0.793</text>
<text x="132.94" y="510.09" font-size="4.66" text-anchor="middle" class="bl" textLength="13.53" lengthAdjust="spacingAndGlyphs">0.793</text>
<text x="156.80" y="507.89" font-size="4.66" text-anchor="middle" class="bl" textLength="13.53" lengthAdjust="spacingAndGlyphs">0.805</text>
<text x="171.11" y="525.67" font-size="4.66" text-anchor="middle" class="bl" textLength="13.53" lengthAdjust="spacingAndGlyphs">0.708</text>
<text x="185.43" y="506.42" font-size="4.66" text-anchor="middle" class="bl" textLength="13.53" lengthAdjust="spacingAndGlyphs">0.813</text>
<text x="199.74" y="506.42" font-size="4.66" text-anchor="middle" class="bl" textLength="13.53" lengthAdjust="spacingAndGlyphs">0.813</text>
<text x="214.06" y="504.95" font-size="4.66" text-anchor="middle" class="bl" textLength="13.53" lengthAdjust="spacingAndGlyphs">0.821</text>
<text x="228.37" y="501.84" font-size="4.66" text-anchor="middle" class="bl" textLength="13.53" lengthAdjust="spacingAndGlyphs">0.838</text>
<text x="252.23" y="507.52" font-size="4.66" text-anchor="middle" class="bl" textLength="13.53" lengthAdjust="spacingAndGlyphs">0.807</text>
<text x="266.54" y="525.12" font-size="4.66" text-anchor="middle" class="bl" textLength="13.53" lengthAdjust="spacingAndGlyphs">0.711</text>
<text x="280.86" y="505.50" font-size="4.66" text-anchor="middle" class="bl" textLength="13.53" lengthAdjust="spacingAndGlyphs">0.818</text>
<text x="295.17" y="506.24" font-size="4.66" text-anchor="middle" class="bl" textLength="13.53" lengthAdjust="spacingAndGlyphs">0.814</text>
<text x="309.49" y="504.59" font-size="4.66" text-anchor="middle" class="bl" textLength="13.53" lengthAdjust="spacingAndGlyphs">0.823</text>
<text x="323.80" y="501.10" font-size="4.66" text-anchor="middle" class="bl" textLength="13.53" lengthAdjust="spacingAndGlyphs">0.842</text>
<text x="347.66" y="511.92" font-size="4.66" text-anchor="middle" class="bl" textLength="13.53" lengthAdjust="spacingAndGlyphs">0.783</text>
<text x="361.97" y="534.29" font-size="4.66" text-anchor="middle" class="bl" textLength="13.53" lengthAdjust="spacingAndGlyphs">0.661</text>
<text x="376.29" y="522.01" font-size="4.66" text-anchor="middle" class="bl" textLength="13.53" lengthAdjust="spacingAndGlyphs">0.728</text>
<text x="390.60" y="509.90" font-size="4.66" text-anchor="middle" class="bl" textLength="13.53" lengthAdjust="spacingAndGlyphs">0.794</text>
<text x="404.92" y="511.00" font-size="4.66" text-anchor="middle" class="bl" textLength="13.53" lengthAdjust="spacingAndGlyphs">0.788</text>
<text x="419.23" y="511.55" font-size="4.66" text-anchor="middle" class="bl" textLength="13.53" lengthAdjust="spacingAndGlyphs">0.785</text>
<path d="M444.50 495.50 H35.50 V657.50 H444.50 V495.50" fill="none" stroke="#000" stroke-width="0.8"/>
<line x1="31.99" y1="657.50" x2="35.30" y2="657.50" stroke="#000" stroke-width="1.0"/>
<text x="28.68" y="661.14" font-size="10.02" text-anchor="end" textLength="15.03" lengthAdjust="spacingAndGlyphs">0.0</text>
<line x1="31.99" y1="620.50" x2="35.30" y2="620.50" stroke="#000" stroke-width="1.0"/>
<text x="28.68" y="624.47" font-size="10.02" text-anchor="end" textLength="15.03" lengthAdjust="spacingAndGlyphs">0.2</text>
<line x1="31.99" y1="583.50" x2="35.30" y2="583.50" stroke="#000" stroke-width="1.0"/>
<text x="28.68" y="587.80" font-size="10.02" text-anchor="end" textLength="15.03" lengthAdjust="spacingAndGlyphs">0.4</text>
<line x1="31.99" y1="547.50" x2="35.30" y2="547.50" stroke="#000" stroke-width="1.0"/>
<text x="28.68" y="551.13" font-size="10.02" text-anchor="end" textLength="15.03" lengthAdjust="spacingAndGlyphs">0.6</text>
<line x1="31.99" y1="510.50" x2="35.30" y2="510.50" stroke="#000" stroke-width="1.0"/>
<text x="28.68" y="514.46" font-size="10.02" text-anchor="end" textLength="15.03" lengthAdjust="spacingAndGlyphs">0.8</text>
<line x1="96.50" y1="657.30" x2="96.50" y2="660.61" stroke="#000" stroke-width="1.0"/>
<text x="96.85" y="671.10" font-size="10.02" text-anchor="middle" textLength="35.15" lengthAdjust="spacingAndGlyphs">ES-AUC</text>
<line x1="192.50" y1="657.30" x2="192.50" y2="660.61" stroke="#000" stroke-width="1.0"/>
<text x="192.28" y="671.10" font-size="10.02" text-anchor="middle" textLength="33.77" lengthAdjust="spacingAndGlyphs">Overall</text>
<line x1="287.50" y1="657.30" x2="287.50" y2="660.61" stroke="#000" stroke-width="1.0"/>
<text x="287.72" y="671.10" font-size="10.02" text-anchor="middle" textLength="62.51" lengthAdjust="spacingAndGlyphs">Non-Hispanic</text>
<line x1="383.50" y1="657.30" x2="383.50" y2="660.61" stroke="#000" stroke-width="1.0"/>
<text x="383.15" y="671.10" font-size="10.02" text-anchor="middle" textLength="40.26" lengthAdjust="spacingAndGlyphs">Hispanic</text>
<text x="8.19" y="576.25" font-size="10.02" text-anchor="middle" textLength="19.98" lengthAdjust="spacingAndGlyphs" transform="rotate(-90 8.19 576.25)">AUC</text>
<rect x="506.94" y="561.11" width="13.32" height="96.19" fill="#f4bccd" stroke="#000" stroke-width="0.8"/>
<rect x="520.26" y="613.95" width="13.32" height="43.35" fill="#a8f5a0" stroke="#000" stroke-width="0.8"/>
<rect x="533.58" y="548.64" width="13.32" height="108.66" fill="#f5dcc3" stroke="#000" stroke-width="0.8"/>
<rect x="546.90" y="558.73" width="13.32" height="98.57" fill="#5a9bf0" stroke="#000" stroke-width="0.8"/>
<rect x="560.22" y="630.58" width="13.32" height="26.72" fill="#e8e882" stroke="#000" stroke-width="0.8"/>
<rect x="573.54" y="591.98" width="13.32" height="65.32" fill="#a5e4e8" stroke="#000" stroke-width="0.8"/>
<rect x="595.74" y="521.33" width="13.32" height="135.97" fill="#f4bccd" stroke="#000" stroke-width="0.8"/>
<rect x="609.06" y="555.17" width="13.32" height="102.13" fill="#a8f5a0" stroke="#000" stroke-width="0.8"/>
<rect x="622.38" y="502.92" width="13.32" height="154.38" fill="#f5dcc3" stroke="#000" stroke-width="0.8"/>
<rect x="635.70" y="517.76" width="13.32" height="139.54" fill="#5a9bf0" stroke="#000" stroke-width="0.8"/>
<rect x="649.02" y="591.39" width="13.32" height="65.91" fill="#e8e882" stroke="#000" stroke-width="0.8"/>
<rect x="662.34" y="564.67" width="13.32" height="92.63" fill="#a5e4e8" stroke="#000" stroke-width="0.8"/>
<text x="513.90" y="559.29" font-size="4.66" text-anchor="middle" class="bl" textLength="13.53" lengthAdjust="spacingAndGlyphs">0.162</text>
<text x="527.22" y="612.14" font-size="4.66" text-anchor="middle" class="bl" textLength="13.53" lengthAdjust="spacingAndGlyphs">0.073</text>
<text x="540.54" y="546.82" font-size="4.66" text-anchor="middle" class="bl" textLength="13.53" lengthAdjust="spacingAndGlyphs">0.183</text>
<text x="553.86" y="556.92" font-size="4.66" text-anchor="middle" class="bl" textLength="13.53" lengthAdjust="spacingAndGlyphs">0.166</text>
<text x="567.18" y="628.77" font-size="4.66" text-anchor="middle" class="bl" textLength="13.53" lengthAdjust="spacingAndGlyphs">0.045</text>
<text x="580.50" y="590.17" font-size="4.66" text-anchor="middle" class="bl" textLength="13.53" lengthAdjust="spacingAndGlyphs">0.110</text>
<text x="602.70" y="519.51" font-size="4.66" text-anchor="middle" class="bl" textLength="13.53" lengthAdjust="spacingAndGlyphs">0.229</text>
<text x="616.02" y="553.36" font-size="4.66" text-anchor="middle" class="bl" textLength="13.53" lengthAdjust="spacingAndGlyphs">0.172</text>
<text x="629.34" y="501.10" font-size="4.66" text-anchor="middle" class="bl" textLength="13.53" lengthAdjust="spacingAndGlyphs">0.260</text>
<text x="642.66" y="515.95" font-size="4.66" text-anchor="middle" class="bl" textLength="13.53" lengthAdjust="spacingAndGlyphs">0.235</text>
<text x="655.98" y="589.58" font-size="4.66" text-anchor="middle" class="bl" textLength="13.53" lengthAdjust="spacingAndGlyphs">0.111</text>
<text x="669.30" y="562.86" font-size="4.66" text-anchor="middle" class="bl" textLength="13.53" lengthAdjust="spacingAndGlyphs">0.156</text>
<path d="M684.95 495.50 H498.50 V657.50 H684.95 V495.50" fill="none" stroke="#000" stroke-width="0.8"/>
<line x1="495.19" y1="657.50" x2="498.50" y2="657.50" stroke="#000" stroke-width="1.0"/>
<text x="491.88" y="661.14" font-size="10.02" text-anchor="end" textLength="21.04" lengthAdjust="spacingAndGlyphs">0.00</text>
<line x1="495.19" y1="627.50" x2="498.50" y2="627.50" stroke="#000" stroke-width="1.0"/>
<text x="491.88" y="631.45" font-size="10.02" text-anchor="end" textLength="21.04" lengthAdjust="spacingAndGlyphs">0.05</text>
<line x1="495.19" y1="597.50" x2="498.50" y2="597.50" stroke="#000" stroke-width="1.0"/>
<text x="491.88" y="601.76" font-size="10.02" text-anchor="end" textLength="21.04" lengthAdjust="spacingAndGlyphs">0.10</text>
<line x1="495.19" y1="568.50" x2="498.50" y2="568.50" stroke="#000" stroke-width="1.0"/>
<text x="491.88" y="572.08" font-size="10.02" text-anchor="end" textLength="21.04" lengthAdjust="spacingAndGlyphs">0.15</text>
<line x1="495.19" y1="538.50" x2="498.50" y2="538.50" stroke="#000" stroke-width="1.0"/>
<text x="491.88" y="542.39" font-size="10.02" text-anchor="end" textLength="21.04" lengthAdjust="spacingAndGlyphs">0.20</text>
<line x1="495.19" y1="508.50" x2="498.50" y2="508.50" stroke="#000" stroke-width="1.0"/>
<text x="491.88" y="512.70" font-size="10.02" text-anchor="end" textLength="21.04" lengthAdjust="spacingAndGlyphs">0.25</text>
<line x1="546.50" y1="657.30" x2="546.50" y2="660.61" stroke="#000" stroke-width="1.0"/>
<text x="546.90" y="671.10" font-size="10.02" text-anchor="middle" textLength="71.18" lengthAdjust="spacingAndGlyphs">Mean Disparity</text>
<line x1="635.50" y1="657.30" x2="635.50" y2="660.61" stroke="#000" stroke-width="1.0"/>
<text x="635.70" y="671.10" font-size="10.02" text-anchor="middle" textLength="64.97" lengthAdjust="spacingAndGlyphs">Max Disparity</text>
<text x="464.99" y="576.25" font-size="10.02" text-anchor="middle" textLength="80.49" lengthAdjust="spacingAndGlyphs" transform="rotate(-90 464.99 576.25)">Group Difference</text>
<text x="342.5" y="689.9" font-size="14" text-anchor="middle" fill="#111">(c)</text>
</svg>
</body></html>
